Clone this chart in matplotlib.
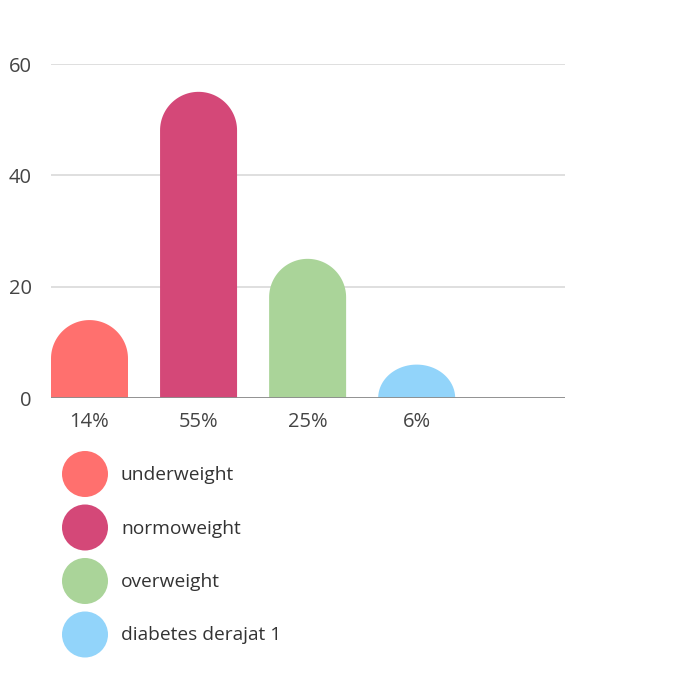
import matplotlib.pyplot as plt
from matplotlib.path import Path
from matplotlib.patches import PathPatch, Circle
import numpy as np

# data
categories = ["underweight", "normoweight", "overweight", "diabetes derajat 1"]
values = [14, 55, 25, 6]
tick_labels = ["14%", "55%", "25%", "6%"]
colors = ["#FF706E", "#D44878", "#AAD499", "#92D4FA"]

plt.rcParams['font.family'] = ['Open Sans', 'DejaVu Sans']

W, H = 683, 679
fig = plt.figure(figsize=(W / 100, H / 100), dpi=100)
ax = fig.add_axes([51 / W, 1 - 398 / H, 514 / W, 334 / H])

bw = 0.706
ax.set_xlim(-bw / 2, 4.36)
ax.set_ylim(0, 60)

# radius of the rounded top in data units (half the bar width in pixels)
px_per_x = 514 / (4.36 + bw / 2)
px_per_y = 334 / 60
r_px = bw / 2 * px_per_x
r_y = r_px / px_per_y


def rounded_bar(x, h):
    ry = min(r_y, h)
    base = h - ry
    t = np.linspace(np.pi, 0, 60)
    xs = [x - bw / 2, x - bw / 2] + list(x + bw / 2 * np.cos(t)) + [x + bw / 2, x - bw / 2]
    ys = [0, base] + list(base + ry * np.sin(t)) + [0, 0]
    verts = list(zip(xs, ys))
    codes = [Path.MOVETO] + [Path.LINETO] * (len(verts) - 2) + [Path.CLOSEPOLY]
    return Path(verts, codes)


for i, (v, c) in enumerate(zip(values, colors)):
    ax.add_patch(PathPatch(rounded_bar(i, v), facecolor=c, edgecolor='none', zorder=3))

ax.set_yticks([0, 20, 40, 60])
ax.yaxis.grid(True, color='#D9D9D9', linewidth=1.2, zorder=0)
ax.axhline(0, color='#8C8C8C', linewidth=1.3, zorder=4)
ax.set_xticks(range(len(values)))
ax.set_xticklabels(tick_labels)
ax.tick_params(length=0, labelsize=14.5, labelcolor='#444444')
ax.tick_params(axis='y', pad=14)
ax.tick_params(axis='x', pad=10)
for s in ax.spines.values():
    s.set_visible(False)

# legend with big circles
lax = fig.add_axes([0, 0, 1, 1])
lax.set_xlim(0, W)
lax.set_ylim(H, 0)
lax.axis('off')
for k, (name, c) in enumerate(zip(categories, colors)):
    cy = 474 + k * 53.5
    lax.add_patch(Circle((85, cy), 23, facecolor=c, edgecolor='none'))
    lax.text(121, cy + 1, name, fontsize=13.8, color='#333333', va='center', ha='left')

fig.savefig('out.png', dpi=100)
